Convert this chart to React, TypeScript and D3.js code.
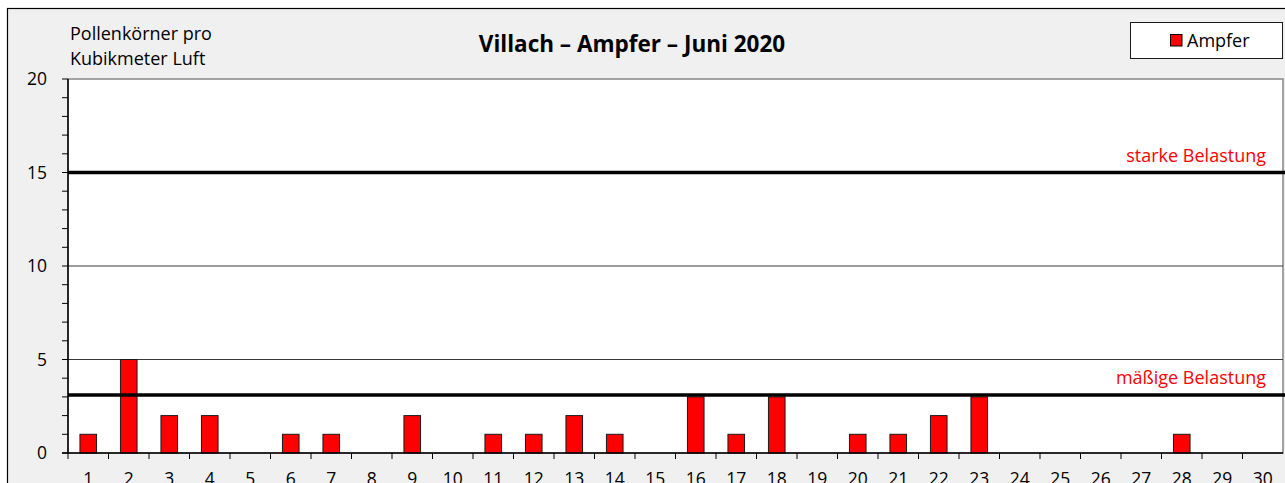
import * as d3 from 'd3'

const days = d3.range(1, 31).map(String)
const ampfer = [1, 5, 2, 2, 0, 1, 1, 0, 2, 0, 1, 1, 2, 1, 0, 3, 1, 3, 0, 1, 1, 2, 3, 0, 0, 0, 0, 1, 0, 0]
const yTicks = [0, 5, 10, 15, 20]
const gridValues = [5, 10]
const thresholds = [
  { value: 15, label: 'starke Belastung' },
  { value: 3.1, label: 'mäßige Belastung' },
]

const W = 1285
const H = 483
const FONT = '"Open Sans", "Noto Sans", sans-serif'

export default function App() {
  const left = 68
  const right = 1283
  const top = 79
  const bottom = 453

  const x = d3.scaleBand<string>().domain(days).range([left, right]).padding(0)
  const y = d3.scaleLinear().domain([0, 20]).range([bottom, top])
  const barW = x.bandwidth() * 0.41
  const minor = d3.range(0, 21)

  return (
    <svg
      width={W}
      height={H}
      style={{ position: 'absolute', left: 0, top: 0, fontFamily: FONT }}
    >
      <rect x={0} y={0} width={W} height={H} fill="#fff" />
      <rect x={7.5} y={8.5} width={W + 20} height={H + 20} fill="#f0f0f0" stroke="#000" strokeWidth={1.2} />

      {/* plot area */}
      <rect x={left} y={top} width={right - left} height={bottom - top} fill="#fff" stroke="#868686" strokeWidth={1.5} />

      {gridValues.map((v) => (
        <line key={v} x1={left} x2={right} y1={y(v)} y2={y(v)} stroke="#3a3a3a" strokeWidth={1} />
      ))}

      {/* bars */}
      {ampfer.map((v, i) =>
        v > 0 ? (
          <rect
            key={i}
            x={(x(days[i]) ?? 0) + (x.bandwidth() - barW) / 2}
            y={y(v)}
            width={barW}
            height={y(0) - y(v)}
            fill="#ff0000"
            stroke="#1a1a1a"
            strokeWidth={1}
          />
        ) : null
      )}

      {/* threshold lines */}
      {thresholds.map((t) => (
        <g key={t.label}>
          <line x1={left} x2={right + 2} y1={y(t.value)} y2={y(t.value)} stroke="#000" strokeWidth={3.5} />
          <text
            x={1266}
            y={y(t.value) - 11}
            textAnchor="end"
            fill="#ff0000"
            fontSize={18}
          >
            {t.label}
          </text>
        </g>
      ))}

      {/* y axis */}
      <line x1={left} x2={left} y1={top} y2={bottom} stroke="#000" strokeWidth={1.5} />
      {minor.map((v) => (
        <line key={v} x1={left - 6} x2={left} y1={y(v)} y2={y(v)} stroke="#000" strokeWidth={1} />
      ))}
      {yTicks.map((v) => (
        <text key={v} x={47} y={y(v)} dy="0.36em" textAnchor="end" fontSize={17.5} fill="#000">
          {v}
        </text>
      ))}

      {/* x axis */}
      <line x1={left - 6} x2={right} y1={bottom} y2={bottom} stroke="#000" strokeWidth={1.5} />
      {days.map((d) => (
        <line
          key={d}
          x1={x(d) ?? 0}
          x2={x(d) ?? 0}
          y1={bottom}
          y2={bottom + 6}
          stroke="#000"
          strokeWidth={1}
        />
      ))}
      {days.map((d) => (
        <text
          key={d}
          x={(x(d) ?? 0) + x.bandwidth() / 2}
          y={485}
          textAnchor="middle"
          fontSize={17.5}
          fill="#000"
        >
          {d}
        </text>
      ))}

      {/* axis title */}
      <text x={70} y={40} fontSize={18} fill="#000">
        Pollenkörner pro
      </text>
      <text x={70} y={65} fontSize={18} fill="#000">
        Kubikmeter Luft
      </text>

      {/* title */}
      <text x={632} y={52} textAnchor="middle" fontSize={22.5} fontWeight="bold" fill="#000">
        Villach – Ampfer – Juni 2020
      </text>

      {/* legend */}
      <rect x={1130.5} y={22.5} width={152} height={36} fill="#fff" stroke="#1a1a1a" strokeWidth={1} />
      <rect x={1170.5} y={34.5} width={11.5} height={11.5} fill="#ff0000" stroke="#000" strokeWidth={1} />
      <text x={1187} y={47} fontSize={18} fill="#000">
        Ampfer
      </text>
    </svg>
  )
}
